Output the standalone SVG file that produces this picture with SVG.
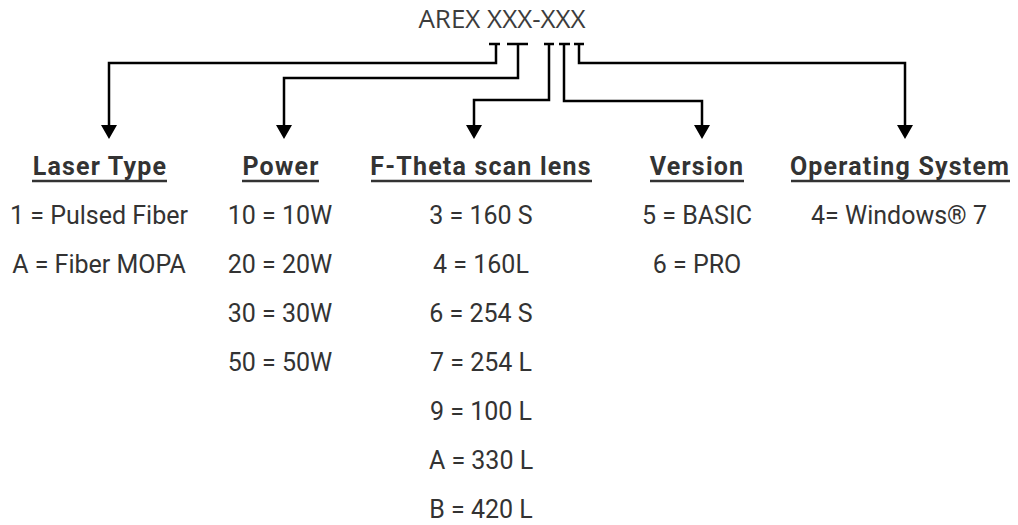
<svg xmlns="http://www.w3.org/2000/svg" width="1018" height="525" viewBox="0 0 1018 525">
<style>
.title{font-family:"Open Sans","Noto Sans",sans-serif;font-size:26px;fill:#3c3c3c;text-anchor:middle}
.hd{font-family:Roboto,"Liberation Sans",sans-serif;font-weight:bold;font-size:25px;letter-spacing:1.2px;fill:#333;text-anchor:middle}
.it{font-family:Roboto,"Liberation Sans",sans-serif;font-size:25px;fill:#333;text-anchor:middle}
.ul{stroke:#333;stroke-width:2.5}
.c{fill:none;stroke:#000;stroke-width:2.5}
</style>
<rect width="1018" height="525" fill="#fff"/>
<g id="title"><text class="title" x="502" y="28">AREX XXX-XXX</text></g>
<g id="connectors">
<path class="c" d="M489,44 H500 M496,44 V63 H109 V126"/>
<path class="c" d="M507,44 H528 M518,44 V78 H284 V126"/>
<path class="c" d="M544,44 H554 M549,44 V100 H474 V126"/>
<path class="c" d="M559,44 H570 M564,44 V101 H702 V126"/>
<path class="c" d="M574,44 H584 M579,44 V63 H905 V126"/>
<path d="M101,125 L117,125 L109,139 Z M276,125 L292,125 L284,139 Z M466,125 L482,125 L474,139 Z M694,125 L710,125 L702,139 Z M897,125 L913,125 L905,139 Z" fill="#000"/>
</g>
<g id="laser-type">
<text class="hd" x="100" y="175">Laser Type</text>
<line class="ul" x1="32" y1="181" x2="167" y2="181"/>
<text class="it" x="99" y="224">1 = Pulsed Fiber</text>
<text class="it" x="99" y="273">A = Fiber MOPA</text>
</g>
<g id="power">
<text class="hd" x="281" y="175">Power</text>
<line class="ul" x1="242" y1="181" x2="319" y2="181"/>
<text class="it" x="280" y="224">10 = 10W</text>
<text class="it" x="280" y="273">20 = 20W</text>
<text class="it" x="280" y="322">30 = 30W</text>
<text class="it" x="280" y="371">50 = 50W</text>
</g>
<g id="f-theta">
<text class="hd" x="481" y="175">F-Theta scan lens</text>
<line class="ul" x1="371" y1="181" x2="592" y2="181"/>
<text class="it" x="481" y="224">3 = 160 S</text>
<text class="it" x="481" y="273">4 = 160L</text>
<text class="it" x="481" y="322">6 = 254 S</text>
<text class="it" x="481" y="371">7 = 254 L</text>
<text class="it" x="481" y="420">9 = 100 L</text>
<text class="it" x="481" y="469">A = 330 L</text>
<text class="it" x="481" y="518">B = 420 L</text>
</g>
<g id="version">
<text class="hd" x="697" y="175">Version</text>
<line class="ul" x1="650" y1="181" x2="744" y2="181"/>
<text class="it" x="697" y="224">5 = BASIC</text>
<text class="it" x="697" y="273">6 = PRO</text>
</g>
<g id="os">
<text class="hd" x="900" y="175">Operating System</text>
<line class="ul" x1="791" y1="181" x2="1010" y2="181"/>
<text class="it" x="899" y="224">4= Windows® 7</text>
</g>
</svg>
